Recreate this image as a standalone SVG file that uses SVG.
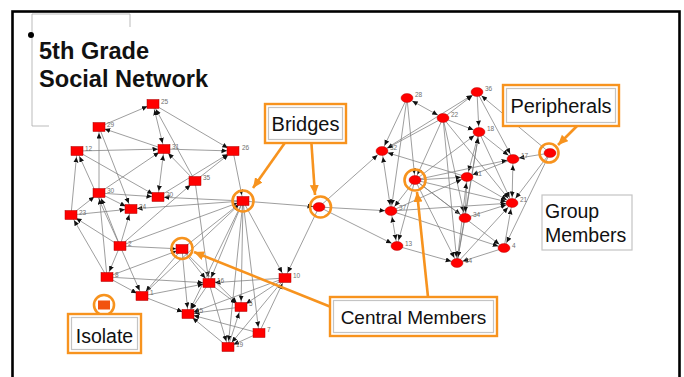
<svg xmlns="http://www.w3.org/2000/svg" width="684" height="377" viewBox="0 0 684 377">
<defs>
<marker id="a" markerUnits="userSpaceOnUse" markerWidth="12" markerHeight="6" refX="11.5" refY="2.5" orient="auto-start-reverse"><path d="M0,0 L5.5,2.5 L0,5 z" fill="#111"/></marker>
<marker id="o" markerUnits="userSpaceOnUse" markerWidth="12" markerHeight="10" refX="10" refY="4.5" orient="auto"><path d="M0,0 L10,4.5 L0,9 z" fill="#f7931e"/></marker>
</defs>
<style>
.e line{stroke:#7d7d7d;stroke-width:.75;marker-end:url(#a)}
.e line.b{marker-start:url(#a)}
.sq{fill:#f00;stroke:#a00;stroke-width:.5}
.el{fill:#f00;stroke:#a00;stroke-width:.4}
text.lb{font-family:"Liberation Sans",Arial,sans-serif;font-size:6.5px;fill:#707070}
.ring{fill:none;stroke:#f7931e;stroke-width:2.6}
.ob{fill:#fff;stroke:#f7931e;stroke-width:2.4}
.ib{fill:#fff;stroke:#c4c4c4;stroke-width:1.2}
.t{font-family:"Liberation Sans",Arial,sans-serif;fill:#111}
.oa{stroke:#f7931e;stroke-width:2.6;marker-end:url(#o);fill:none}
</style>
<rect x="0" y="0" width="684" height="377" fill="#fff"/>
<rect x="12.5" y="11.5" width="667" height="400" fill="none" stroke="#000" stroke-width="2.6"/>
<path d="M32,14 H130 V27 M32,14 V126 H49" fill="none" stroke="#aaa" stroke-width="0.8"/>
<circle cx="31" cy="35" r="3" fill="#000"/>
<g id="title" class="t" font-weight="bold" font-size="23.6">
<text x="39" y="59">5th Grade</text>
<text x="39" y="87">Social Network</text>
</g>
<g class="e" id="connectors">
<line x1="99" y1="127" x2="153" y2="104"/>
<line class="b" x1="164" y1="149" x2="153" y2="104"/>
<line x1="164" y1="149" x2="99" y2="127"/>
<line x1="195" y1="181" x2="153" y2="104"/>
<line x1="153" y1="104" x2="233" y2="151"/>
<line x1="77" y1="151" x2="164" y2="149"/>
<line x1="164" y1="149" x2="233" y2="151"/>
<line x1="99" y1="193" x2="99" y2="127"/>
<line x1="99" y1="127" x2="131" y2="209"/>
<line x1="71" y1="215" x2="77" y2="151"/>
<line x1="120" y1="246" x2="77" y2="151"/>
<line x1="77" y1="151" x2="158" y2="197"/>
<line x1="99" y1="193" x2="164" y2="149"/>
<line class="b" x1="158" y1="197" x2="164" y2="149"/>
<line x1="195" y1="181" x2="164" y2="149"/>
<line x1="99" y1="193" x2="131" y2="209"/>
<line x1="99" y1="193" x2="158" y2="197"/>
<line x1="71" y1="215" x2="99" y2="193"/>
<line x1="120" y1="246" x2="99" y2="193"/>
<line x1="107" y1="277" x2="99" y2="193"/>
<line x1="120" y1="246" x2="131" y2="209"/>
<line x1="71" y1="215" x2="131" y2="209"/>
<line x1="243" y1="201" x2="158" y2="197"/>
<line x1="243" y1="201" x2="131" y2="209"/>
<line x1="120" y1="246" x2="71" y2="215"/>
<line x1="107" y1="277" x2="71" y2="215"/>
<line x1="158" y1="197" x2="233" y2="151"/>
<line x1="195" y1="181" x2="233" y2="151"/>
<line x1="120" y1="246" x2="195" y2="181"/>
<line x1="195" y1="181" x2="209" y2="283"/>
<line x1="120" y1="246" x2="107" y2="277"/>
<line x1="120" y1="246" x2="182" y2="249"/>
<line x1="120" y1="246" x2="142" y2="296"/>
<line x1="120" y1="246" x2="243" y2="201"/>
<line x1="233" y1="151" x2="243" y2="201"/>
<line x1="182" y1="249" x2="243" y2="201"/>
<line x1="182" y1="249" x2="188" y2="314"/>
<line x1="182" y1="249" x2="209" y2="283"/>
<line x1="182" y1="249" x2="142" y2="296"/>
<line x1="107" y1="277" x2="182" y2="249"/>
<line x1="182" y1="249" x2="241" y2="307"/>
<line x1="243" y1="201" x2="319" y2="207"/>
<line x1="243" y1="201" x2="209" y2="283"/>
<line x1="243" y1="201" x2="188" y2="314"/>
<line x1="243" y1="201" x2="241" y2="307"/>
<line x1="243" y1="201" x2="228" y2="347"/>
<line x1="243" y1="201" x2="259" y2="333"/>
<line x1="243" y1="201" x2="285" y2="278"/>
<line x1="142" y1="296" x2="243" y2="201"/>
<line x1="319" y1="207" x2="285" y2="278"/>
<line x1="285" y1="278" x2="209" y2="283"/>
<line x1="285" y1="278" x2="188" y2="314"/>
<line x1="285" y1="278" x2="241" y2="307"/>
<line x1="285" y1="278" x2="228" y2="347"/>
<line x1="259" y1="333" x2="285" y2="278"/>
<line x1="209" y1="283" x2="188" y2="314"/>
<line x1="209" y1="283" x2="241" y2="307"/>
<line x1="209" y1="283" x2="228" y2="347"/>
<line x1="142" y1="296" x2="209" y2="283"/>
<line x1="107" y1="277" x2="209" y2="283"/>
<line x1="142" y1="296" x2="188" y2="314"/>
<line x1="107" y1="277" x2="142" y2="296"/>
<line x1="228" y1="347" x2="188" y2="314"/>
<line x1="241" y1="307" x2="188" y2="314"/>
<line x1="228" y1="347" x2="241" y2="307"/>
<line x1="259" y1="333" x2="188" y2="314"/>
<line x1="259" y1="333" x2="228" y2="347"/>
<line x1="319" y1="207" x2="382" y2="151"/>
<line x1="319" y1="207" x2="391" y2="211"/>
<line x1="319" y1="207" x2="397" y2="246"/>
<line class="b" x1="407" y1="98" x2="443" y2="118"/>
<line x1="407" y1="98" x2="382" y2="151"/>
<line x1="407" y1="98" x2="415" y2="180"/>
<line x1="407" y1="98" x2="391" y2="211"/>
<line x1="443" y1="118" x2="477" y2="92"/>
<line x1="477" y1="92" x2="479" y2="132"/>
<line x1="477" y1="92" x2="513" y2="159"/>
<line x1="382" y1="151" x2="477" y2="92"/>
<line x1="443" y1="118" x2="382" y2="151"/>
<line x1="443" y1="118" x2="479" y2="132"/>
<line x1="443" y1="118" x2="415" y2="180"/>
<line x1="443" y1="118" x2="465" y2="218"/>
<line x1="443" y1="118" x2="512" y2="203"/>
<line x1="443" y1="118" x2="457" y2="263"/>
<line x1="479" y1="132" x2="467" y2="177"/>
<line x1="479" y1="132" x2="513" y2="159"/>
<line x1="479" y1="132" x2="512" y2="203"/>
<line x1="457" y1="263" x2="479" y2="132"/>
<line x1="465" y1="218" x2="479" y2="132"/>
<line x1="415" y1="180" x2="479" y2="132"/>
<line class="b" x1="382" y1="151" x2="391" y2="211"/>
<line x1="467" y1="177" x2="382" y2="151"/>
<line x1="513" y1="159" x2="467" y2="177"/>
<line class="b" x1="513" y1="159" x2="512" y2="203"/>
<line x1="415" y1="180" x2="513" y2="159"/>
<line x1="415" y1="180" x2="391" y2="211"/>
<line x1="415" y1="180" x2="397" y2="246"/>
<line x1="415" y1="180" x2="457" y2="263"/>
<line x1="415" y1="180" x2="465" y2="218"/>
<line x1="415" y1="180" x2="467" y2="177"/>
<line x1="415" y1="180" x2="512" y2="203"/>
<line x1="415" y1="180" x2="504" y2="248"/>
<line x1="467" y1="177" x2="465" y2="218"/>
<line x1="457" y1="263" x2="467" y2="177"/>
<line x1="467" y1="177" x2="512" y2="203"/>
<line x1="391" y1="211" x2="467" y2="177"/>
<line class="b" x1="391" y1="211" x2="397" y2="246"/>
<line x1="391" y1="211" x2="512" y2="203"/>
<line x1="391" y1="211" x2="504" y2="248"/>
<line x1="504" y1="248" x2="512" y2="203"/>
<line x1="457" y1="263" x2="512" y2="203"/>
<line x1="465" y1="218" x2="512" y2="203"/>
<line x1="550" y1="153" x2="512" y2="203"/>
<line x1="550" y1="153" x2="504" y2="248"/>
<line x1="550" y1="153" x2="477" y2="92"/>
<line x1="550" y1="153" x2="513" y2="159"/>
<line x1="397" y1="246" x2="457" y2="263"/>
<line x1="504" y1="248" x2="457" y2="263"/>
<line x1="465" y1="218" x2="457" y2="263"/>
</g>
<g id="left-nodes">
<g id="n25"><rect class="sq" x="147" y="99.5" width="12" height="9"/><text class="lb" x="161" y="104">25</text></g>
<g id="n29"><rect class="sq" x="93" y="122.5" width="12" height="9"/><text class="lb" x="107" y="127">29</text></g>
<g id="n12"><rect class="sq" x="71" y="146.5" width="12" height="9"/><text class="lb" x="85" y="151">12</text></g>
<g id="n31"><rect class="sq" x="158" y="144.5" width="12" height="9"/><text class="lb" x="172" y="149">31</text></g>
<g id="n26"><rect class="sq" x="227" y="146.5" width="12" height="9"/><text class="lb" x="242" y="150">26</text></g>
<g id="n35"><rect class="sq" x="189" y="176.5" width="12" height="9"/><text class="lb" x="203" y="180">35</text></g>
<g id="n30"><rect class="sq" x="93" y="188.5" width="12" height="9"/><text class="lb" x="107" y="193">30</text></g>
<g id="n20"><rect class="sq" x="152" y="192.5" width="12" height="9"/><text class="lb" x="166" y="197">20</text></g>
<g id="n24"><rect class="sq" x="125" y="204.5" width="12" height="9"/><text class="lb" x="139" y="209">24</text></g>
<g id="n23"><rect class="sq" x="65" y="210.5" width="12" height="9"/><text class="lb" x="79" y="215">23</text></g>
<g id="n2"><rect class="sq" x="114" y="241.5" width="12" height="9"/><text class="lb" x="128" y="246">2</text></g>
<g id="n8"><rect class="sq" x="101" y="272.5" width="12" height="9"/><text class="lb" x="115" y="277">8</text></g>
<g id="n1"><rect class="sq" x="136" y="291.5" width="12" height="9"/><text class="lb" x="150" y="295">1</text></g>
<g id="n16"><rect class="sq" x="203" y="278.5" width="12" height="9"/><text class="lb" x="217" y="283">16</text></g>
<g id="n10"><rect class="sq" x="279" y="273.5" width="12" height="9"/><text class="lb" x="293" y="278">10</text></g>
<g id="n5"><rect class="sq" x="235" y="302.5" width="12" height="9"/><text class="lb" x="249" y="306">5</text></g>
<g id="n15"><rect class="sq" x="182" y="309.5" width="12" height="9"/><text class="lb" x="196" y="313">15</text></g>
<g id="n7"><rect class="sq" x="253" y="328.5" width="12" height="9"/><text class="lb" x="267" y="332">7</text></g>
<g id="n19"><rect class="sq" x="222" y="342.5" width="12" height="9"/><text class="lb" x="236" y="347">19</text></g>
<g id="bridge1"><rect class="sq" x="237" y="196.5" width="12" height="9"/><circle class="ring" cx="243" cy="201" r="10.5"/></g>
<g id="central1"><rect class="sq" x="176" y="244.5" width="12" height="9"/><circle class="ring" cx="182" cy="248.5" r="10.5"/></g>
<g id="isolate"><rect x="98" y="300.5" width="12" height="9" fill="#f2520f"/><circle class="ring" cx="104" cy="305" r="10"/></g>
</g>
<g id="right-nodes">
<g id="bridge2"><ellipse class="el" cx="319" cy="207" rx="6" ry="4.5"/><circle class="ring" cx="320.5" cy="207" r="10.5"/></g>
<g id="n28"><ellipse class="el" cx="407" cy="98" rx="6" ry="4.5"/><text class="lb" x="415" y="97">28</text></g>
<g id="n36"><ellipse class="el" cx="477" cy="92" rx="6" ry="4.5"/><text class="lb" x="485" y="91">36</text></g>
<g id="n22"><ellipse class="el" cx="443" cy="118" rx="6" ry="4.5"/><text class="lb" x="451" y="117">22</text></g>
<g id="n18"><ellipse class="el" cx="479" cy="132" rx="6" ry="4.5"/><text class="lb" x="487" y="131">18</text></g>
<g id="n32"><ellipse class="el" cx="382" cy="151" rx="6" ry="4.5"/><text class="lb" x="390" y="150">32</text></g>
<g id="n17"><ellipse class="el" cx="513" cy="159" rx="6" ry="4.5"/><text class="lb" x="521" y="158">17</text></g>
<g id="n11"><ellipse class="el" cx="467" cy="177" rx="6" ry="4.5"/><text class="lb" x="475" y="176">11</text></g>
<g id="n37"><ellipse class="el" cx="391" cy="211" rx="6" ry="4.5"/><text class="lb" x="399" y="210">37</text></g>
<g id="n21"><ellipse class="el" cx="512" cy="203" rx="6" ry="4.5"/><text class="lb" x="520" y="202">21</text></g>
<g id="n34"><ellipse class="el" cx="465" cy="218" rx="6" ry="4.5"/><text class="lb" x="473" y="217">34</text></g>
<g id="n13"><ellipse class="el" cx="397" cy="246" rx="6" ry="4.5"/><text class="lb" x="405" y="246">13</text></g>
<g id="n4"><ellipse class="el" cx="504" cy="248" rx="6" ry="4.5"/><text class="lb" x="512" y="248">4</text></g>
<g id="n14"><ellipse class="el" cx="457" cy="263" rx="6" ry="4.5"/><text class="lb" x="465" y="263">14</text></g>
<g id="central2"><ellipse class="el" cx="415" cy="180" rx="6" ry="4.5"/><circle class="ring" cx="415" cy="180" r="10.5"/></g>
<g id="peripheral"><ellipse class="el" cx="550" cy="153" rx="6" ry="4.5"/><circle class="ring" cx="549" cy="153" r="9.5"/></g>
</g>
<g id="callout-arrows">
<line class="oa" x1="289" y1="137" x2="253" y2="188"/>
<line class="oa" x1="311" y1="137" x2="315" y2="195"/>
<line class="oa" x1="584" y1="119" x2="558" y2="145"/>
<line class="oa" x1="331" y1="307" x2="194" y2="252"/>
<line class="oa" x1="428" y1="297" x2="417" y2="192"/>
</g>
<g id="bridges-label"><rect class="ob" x="265" y="104" width="81" height="39"/><rect class="ib" x="268.5" y="107.5" width="74" height="32"/><text class="t" x="305.5" y="131" font-size="20" text-anchor="middle">Bridges</text></g>
<g id="peripherals-label"><rect class="ob" x="503" y="85" width="116" height="41"/><rect class="ib" x="506.5" y="88.5" width="109" height="34"/><text class="t" x="561" y="113" font-size="20" text-anchor="middle">Peripherals</text></g>
<g id="group-label"><rect class="ib" x="542" y="195" width="90" height="55"/><text class="t" x="545" y="218" font-size="19.5">Group</text><text class="t" x="545" y="242" font-size="19.5">Members</text></g>
<g id="central-label"><rect class="ob" x="330" y="297" width="167" height="39"/><rect class="ib" x="333.5" y="300.5" width="160" height="32"/><text class="t" x="413.5" y="324" font-size="19" text-anchor="middle">Central Members</text></g>
<g id="isolate-label"><rect class="ob" x="68" y="314" width="73" height="39"/><rect class="ib" x="71.5" y="317.5" width="66" height="32"/><text class="t" x="104.5" y="343" font-size="19.5" text-anchor="middle">Isolate</text></g>
</svg>
